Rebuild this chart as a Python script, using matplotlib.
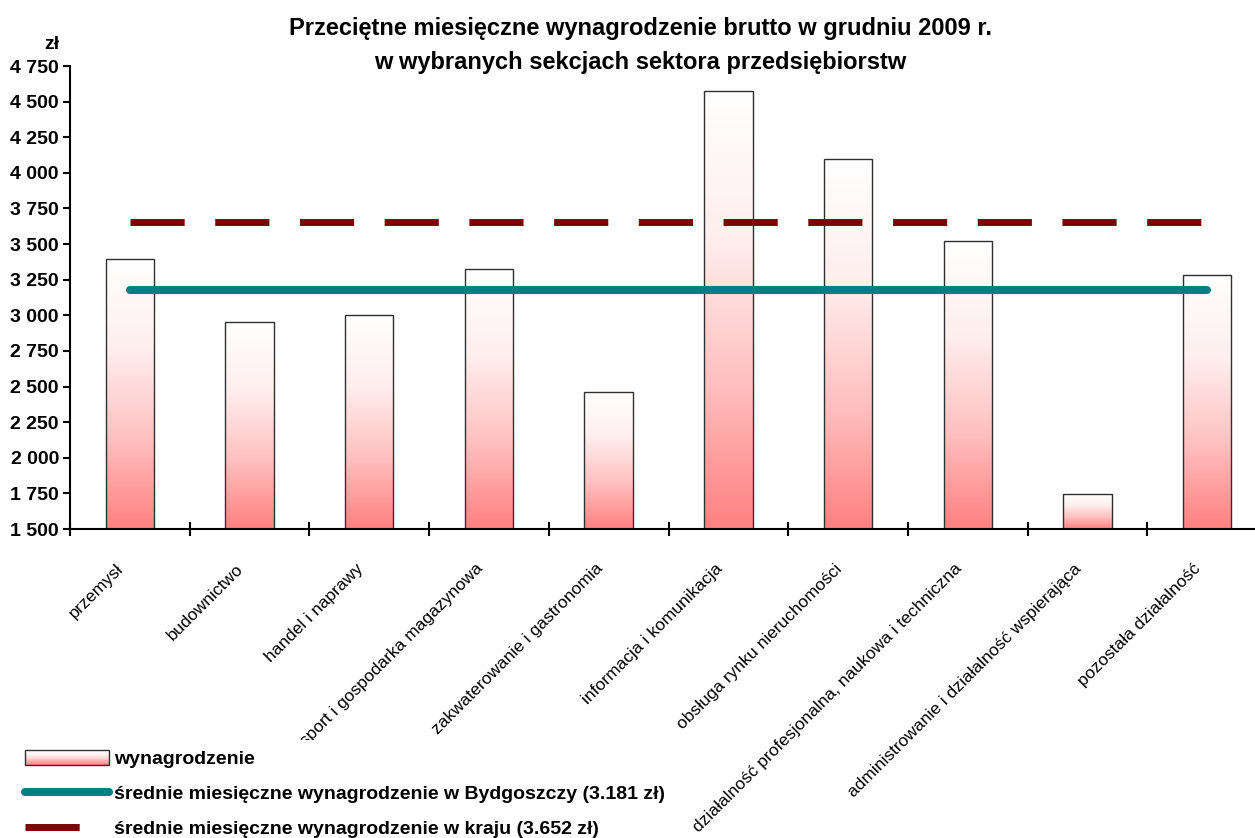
import numpy as np
import matplotlib
matplotlib.use("Agg")
import matplotlib.pyplot as plt
from matplotlib.colors import LinearSegmentedColormap
from matplotlib.patches import Rectangle
from matplotlib.lines import Line2D
from matplotlib.legend_handler import HandlerBase
from matplotlib.transforms import ScaledTranslation, Bbox, TransformedBbox
from matplotlib.ticker import FuncFormatter

plt.rcParams['font.family'] = ['Liberation Sans', 'DejaVu Sans']

# dane
sekcje = ['przemysł', 'budownictwo', 'handel i naprawy',
          'transport i gospodarka magazynowa', 'zakwaterowanie i gastronomia',
          'informacja i komunikacja', 'obsługa rynku nieruchomości',
          'działalność profesjonalna, naukowa i techniczna',
          'administrowanie i działalność wspierająca', 'pozostała działalność']
wynagrodzenie = [3392, 2950, 3005, 3322, 2462, 4575, 4095, 3520, 1746, 3283]
srednia_bydgoszcz = 3181
srednia_kraj = 3652
y_ticks = list(range(1500, 4751, 250))

W, H = 1255, 838
fig = plt.figure(figsize=(W / 100, H / 100), dpi=100)
ax = fig.add_axes([70 / W, 309 / H, 1197 / W, 463 / H])
ax.set_xlim(0, 10)
ax.set_ylim(1500, 4750)

cmap = LinearSegmentedColormap.from_list('grad', ['#ff8080', '#ffc0c0', '#ffeeee', '#ffffff'])
grad = np.linspace(0, 1, 256)[:, None]

x = np.arange(len(sekcje)) + 0.5
w = 0.405
y0 = ax.get_ylim()[0]
for xi, v in zip(x, wynagrodzenie):
    ax.imshow(grad, cmap=cmap, origin='lower', aspect='auto',
              extent=(xi - w / 2, xi + w / 2, y0, v), zorder=1)
ax.bar(x, wynagrodzenie, width=w, fill=False, edgecolor='#303030', lw=1, zorder=2)
ax.set_xlim(0, 10)
ax.set_ylim(1500, 4750)

l_kraj, = ax.plot([x[0], x[-1]], [srednia_kraj] * 2, color='#800000', lw=5,
                  dashes=(7.8, 4.4), dash_capstyle='butt', zorder=3)
l_byd, = ax.plot([x[0], x[-1]], [srednia_bydgoszcz] * 2, color='#008080', lw=5.8,
                 solid_capstyle='round', zorder=4)

# osie
for s in ['top', 'right']:
    ax.spines[s].set_visible(False)
for s in ['left', 'bottom']:
    ax.spines[s].set_linewidth(1.5)
ax.set_yticks(y_ticks)
ax.yaxis.set_major_formatter(FuncFormatter(lambda v, p: f"{int(v):,}".replace(',', ' ')))
ax.tick_params(axis='y', direction='out', length=5, width=1.5, pad=3,
               labelsize=14)
for t in ax.get_yticklabels():
    t.set_fontweight('bold')
ax.set_xticks(np.arange(11))
ax.set_xticklabels([])
ax.tick_params(axis='x', direction='inout', length=10, width=1.5)

tr = ax.get_xaxis_transform() + ScaledTranslation(-10 / 72, -23 / 72, fig.dpi_scale_trans)
for i, (xi, lab) in enumerate(zip(x, sekcje)):
    t = ax.text(xi, 0, lab, transform=tr, rotation=45, ha='right', va='top',
                rotation_mode='anchor', fontsize=12.5)
    if i == 3:
        t.set_clip_box(TransformedBbox(Bbox([[0, 98 / H], [1, 1]]), fig.transFigure))
        t.set_clip_on(True)

fig.text(0.51, 1 - 17 / H,
         'Przeciętne miesięczne wynagrodzenie brutto w grudniu 2009 r.\n'
         'w wybranych sekcjach sektora przedsiębiorstw',
         ha='center', va='top', fontsize=17, fontweight='bold', linespacing=1.6)
fig.text(44 / W, 1 - 53 / H, 'zł', fontsize=14, fontweight='bold', ha='left', va='bottom')


class GradientHandler(HandlerBase):
    def create_artists(self, legend, orig_handle, xdescent, ydescent, width,
                       height, fontsize, trans):
        arts = []
        n = 12
        for k in range(n):
            arts.append(Rectangle((-xdescent, -ydescent + k * height / n), width,
                                  height / n, facecolor=cmap(k / (n - 1)),
                                  edgecolor='none', transform=trans))
        arts.append(Rectangle((-xdescent, -ydescent), width, height, fill=False,
                              edgecolor='#303030', lw=1, transform=trans))
        return arts


h_bar = Rectangle((0, 0), 1, 1)
fig.legend([h_bar, l_byd, l_kraj],
           ['wynagrodzenie',
            'średnie miesięczne wynagrodzenie w Bydgoszczy (3.181 zł)',
            'średnie miesięczne wynagrodzenie w kraju (3.652 zł)'],
           handler_map={h_bar: GradientHandler()},
           loc='upper left', bbox_to_anchor=(17 / W, 1 - 742 / H), frameon=False,
           prop={'size': 14, 'weight': 'bold'}, handlelength=4.32, handleheight=0.85,
           handletextpad=0.25, labelspacing=0.85, borderaxespad=0)

fig.savefig('out.png', dpi=100)
